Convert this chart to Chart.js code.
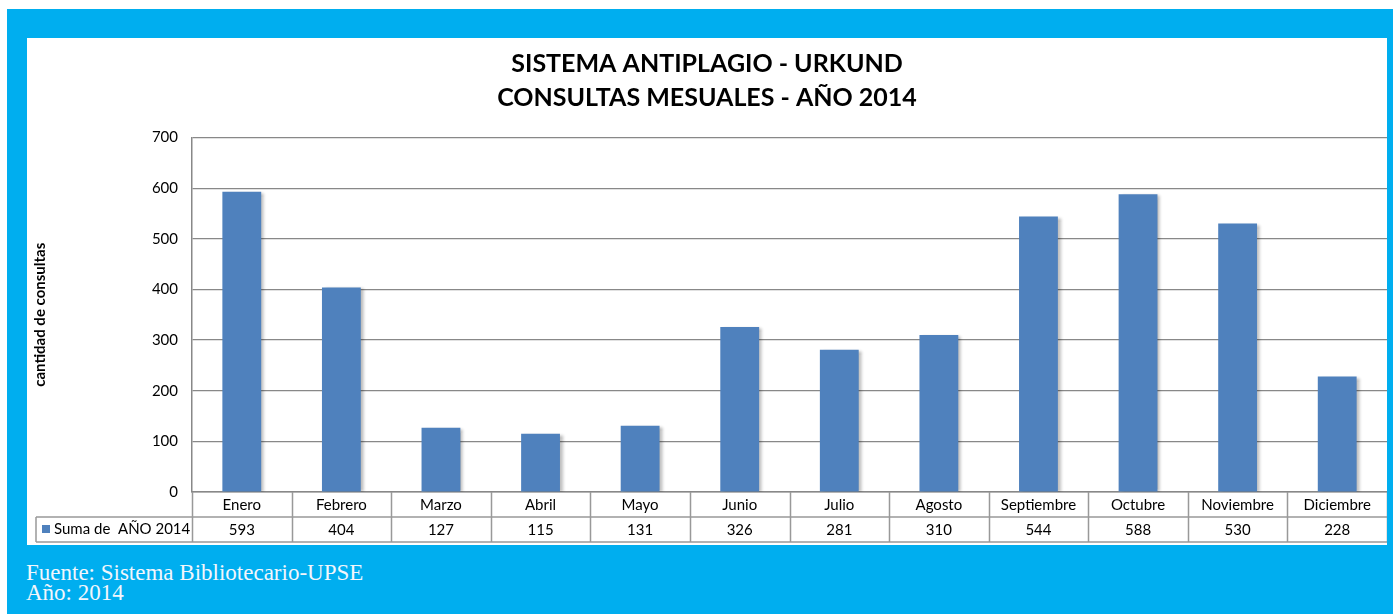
<!DOCTYPE html>
<html>
<head>
<meta charset="utf-8">
<script src="https://cdn.jsdelivr.net/npm/chart.js@4.4.1/dist/chart.umd.min.js"></script>
<style>
  body { margin:0; background:#fff; width:1393px; height:614px; overflow:hidden; position:relative; }
  #blue { position:absolute; left:7px; top:9px; width:1386px; height:605px; background:#00aeef; }
  #panel { position:absolute; left:27px; top:38px; width:1360px; height:507px; background:#fff; }
  .foot { position:absolute; left:26px; font-family:"Liberation Serif","DejaVu Serif",serif; font-size:23px; color:#f2f6fc; line-height:20px; }
</style>
</head>
<body>
<div id="blue"></div>
<div id="panel"><canvas id="c" width="1360" height="507"></canvas></div>
<div class="foot" style="top:563px">Fuente: Sistema Bibliotecario-UPSE</div>
<div class="foot" style="top:583px">Año: 2014</div>
<script>
const months = ['Enero','Febrero','Marzo','Abril','Mayo','Junio','Julio','Agosto','Septiembre','Octubre','Noviembre','Diciembre'];
const consultas = [593, 404, 127, 115, 131, 326, 281, 310, 544, 588, 530, 228];
const seriesName = 'Suma de  AÑO 2014';
const titleLines = ['SISTEMA ANTIPLAGIO - URKUND', 'CONSULTAS MESUALES - AÑO 2014'];
const yTitle = 'cantidad de consultas';

const FONT = 'Lato, Carlito, "Open Sans", sans-serif';
const barColor = '#4f81bd';

// bar shadow like the Excel original
const shadow = {
  id:'shadow',
  beforeDatasetDraw(chart){ const c=chart.ctx; c.save(); c.shadowColor='rgba(0,0,0,0.28)'; c.shadowOffsetX=3; c.shadowOffsetY=1; c.shadowBlur=3; },
  afterDatasetDraw(chart){ chart.ctx.restore(); }
};

// data table under the axis
const dataTable = {
  id:'dataTable',
  afterDraw(chart){
    const c = chart.ctx, x = chart.scales.x, a = chart.chartArea;
    const step = x.getPixelForValue(1) - x.getPixelForValue(0);
    const top = a.bottom, mid = top + 25, bot = top + 50, legLeft = 9;
    c.save();
    c.strokeStyle = '#999'; c.lineWidth = 1.5;
    c.beginPath();
    c.moveTo(legLeft, mid); c.lineTo(a.right, mid);
    c.moveTo(legLeft, bot); c.lineTo(a.right, bot);
    c.moveTo(legLeft, mid); c.lineTo(legLeft, bot);
    for (let i = 0; i <= months.length; i++) {
      const px = Math.round(x.getPixelForValue(i) - step/2) + 0.5;
      c.moveTo(px, top); c.lineTo(px, bot);
    }
    c.stroke();
    c.fillStyle = '#000'; c.font = '15px ' + FONT; c.textAlign = 'center'; c.textBaseline = 'middle';
    months.forEach((m, i) => {
      const px = x.getPixelForValue(i);
      c.fillText(m, px, top + 13);
      c.fillText(String(consultas[i]), px, mid + 13);
    });
    c.fillStyle = barColor; c.fillRect(15, mid + 8, 8, 8);
    c.fillStyle = '#000'; c.textAlign = 'left';
    c.fillText(seriesName, 27, mid + 12);
    c.restore();
  }
};

new Chart(document.getElementById('c'), {
  type:'bar',
  data:{ labels: months, datasets:[{ label: seriesName, data: consultas, backgroundColor: barColor,
    barPercentage: 0.39, categoryPercentage: 1 }] },
  options:{
    responsive:false, animation:false,
    layout:{ padding:{ left:0, right:0, top:0, bottom:45 } },
    plugins:{
      legend:{ display:false }, tooltip:{ enabled:false },
      title:{ display:true, text:titleLines, color:'#000', font:{ family:FONT, size:25, weight:'bold', lineHeight:1.35 }, padding:{ top:9, bottom:23 } }
    },
    scales:{
      x:{ ticks:{ display:false }, grid:{ display:false }, border:{ color:'#888', width:1.5 } },
      y:{ min:0, max:700,
        ticks:{ stepSize:100, color:'#000', font:{ family:FONT, size:15 }, padding:14 },
        grid:{ color:'#888', lineWidth:1.2, drawTicks:false },
        border:{ color:'#888', width:1.5 },
        title:{ display:true, text:yTitle, color:'#000', font:{ family:FONT, size:15, weight:'bold' }, padding:{ top:4, bottom:0 } },
        afterFit(s){ s.width = 165; }
      }
    }
  },
  plugins:[shadow, dataTable]
});
</script>
</body>
</html>
